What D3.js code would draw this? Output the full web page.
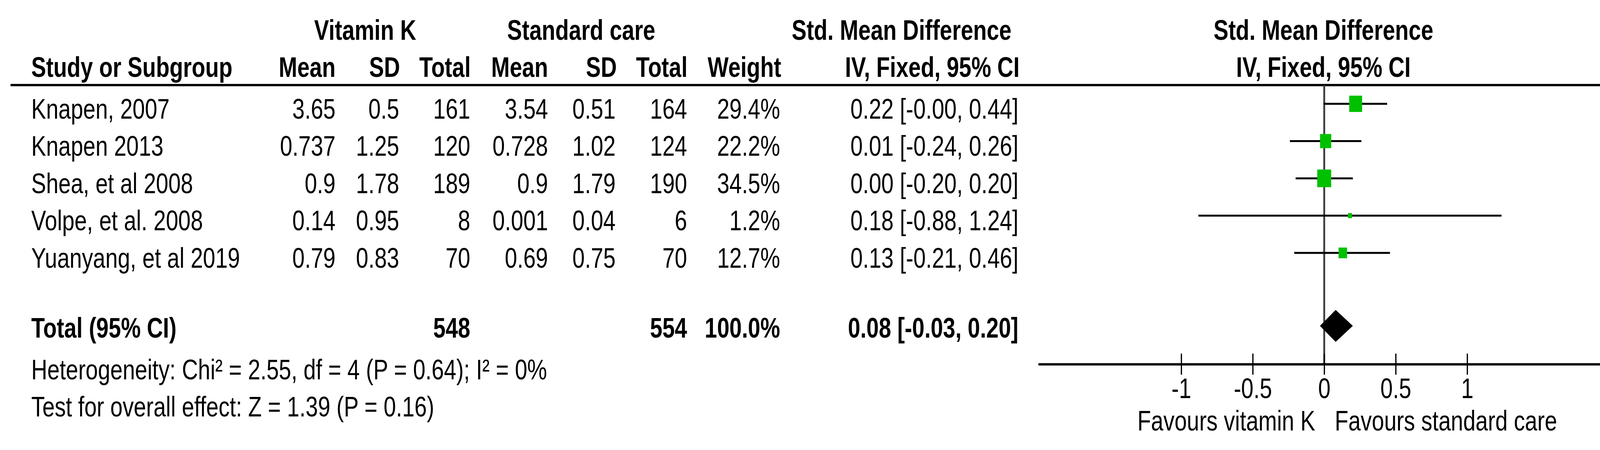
<!DOCTYPE html>
<html>
<head>
<meta charset="utf-8">
<script src="https://cdn.jsdelivr.net/npm/d3@7"></script>
<style>
  body { margin: 0; background: #fff; }
  svg { display: block; }
  text { font-family: "Liberation Sans", Arial, sans-serif; font-size: 72px; fill: #000; }
  .bold { font-weight: bold; }
</style>
</head>
<body>
<svg id="chart"></svg>
<script>
// study data
const studies = ['Knapen, 2007', 'Knapen 2013', 'Shea, et al 2008', 'Volpe, et al. 2008', 'Yuanyang, et al 2019'];
const vkMean = [3.65, 0.737, 0.9, 0.14, 0.79];
const vkSD = [0.5, 1.25, 1.78, 0.95, 0.83];
const vkN = [161, 120, 189, 8, 70];
const scMean = [3.54, 0.728, 0.9, 0.001, 0.69];
const scSD = [0.51, 1.02, 1.79, 0.04, 0.75];
const scN = [164, 124, 190, 6, 70];
const weights = [29.4, 22.2, 34.5, 1.2, 12.7];
const smd = [0.22, 0.01, 0.00, 0.18, 0.13];
const ciLow = [-0.004, -0.24, -0.20, -0.88, -0.21];
const ciHigh = [0.44, 0.26, 0.20, 1.24, 0.46];

const total = { vkN: 548, scN: 554, weight: 100.0, smd: 0.08, lo: -0.03, hi: 0.20 };
const heterogeneity = 'Heterogeneity: Chi² = 2.55, df = 4 (P = 0.64); I² = 0%';
const overallTest = 'Test for overall effect: Z = 1.39 (P = 0.16)';
const tickValues = [-1, -0.5, 0, 0.5, 1];
const favoursLeft = 'Favours vitamin K';
const favoursRight = 'Favours standard care';

// the picture is squeezed horizontally, so draw in a wider box and stretch it
const width = 4208;
const height = 1153;
const squeeze = 0.79;
const X = (v) => v / squeeze;

const svg = d3.select('#chart')
    .attr('width', width)
    .attr('height', height)
    .attr('viewBox', `0 0 ${X(width)} ${height}`)
    .attr('preserveAspectRatio', 'none');

const f2 = (v) => (v < 0 ? '-' : '') + Math.abs(v).toFixed(2);
const ciText = (e, lo, hi) => `${f2(e)} [${f2(lo)}, ${f2(hi)}]`;

const rows = studies.map((name, i) => ({
    name,
    vkMean: vkMean[i], vkSD: vkSD[i], vkN: vkN[i],
    scMean: scMean[i], scSD: scSD[i], scN: scN[i],
    weight: weights[i], smd: smd[i], lo: ciLow[i], hi: ciHigh[i],
}));

const rowY = d3.scaleLinear().domain([0, studies.length - 1]).range([304, 686]);

// table columns: right edge in screen px
const columns = [
    { key: 'vkMean', x: 859, fmt: String },
    { key: 'vkSD', x: 1022, fmt: String },
    { key: 'vkN', x: 1204, fmt: String },
    { key: 'scMean', x: 1403, fmt: String },
    { key: 'scSD', x: 1576, fmt: String },
    { key: 'scN', x: 1759, fmt: String },
    { key: 'weight', x: 1997, fmt: (v) => v.toFixed(1) + '%' },
];
const ciRight = 2607;

function addText(g, str, x, y, anchor, bold) {
    return g.append('text')
        .attr('x', X(x))
        .attr('y', y)
        .attr('text-anchor', anchor)
        .attr('class', bold ? 'bold' : null)
        .text(str);
}

// headers
const head = svg.append('g');
addText(head, 'Vitamin K', 935, 102, 'middle', true);
addText(head, 'Standard care', 1488, 102, 'middle', true);
addText(head, 'Std. Mean Difference', 2308, 102, 'middle', true);
addText(head, 'Std. Mean Difference', 3388, 102, 'middle', true);
addText(head, 'Study or Subgroup', 80, 197, 'start', true);
[['Mean', 859], ['SD', 1024], ['Total', 1205], ['Mean', 1403], ['SD', 1579], ['Total', 1760], ['Weight', 2000]]
    .forEach(([t, x]) => addText(head, t, x, 197, 'end', true));
addText(head, 'IV, Fixed, 95% CI', 2610, 197, 'end', true);
addText(head, 'IV, Fixed, 95% CI', 3388, 197, 'middle', true);

svg.append('line')
    .attr('x1', X(27)).attr('x2', X(4166))
    .attr('y1', 218).attr('y2', 218)
    .attr('stroke', '#000').attr('stroke-width', 6);

// study rows
const body = svg.append('g');
const rowG = body.selectAll('g.row')
    .data(rows)
    .join('g')
    .attr('class', 'row');

rowG.append('text')
    .attr('x', X(80))
    .attr('y', (d, i) => rowY(i))
    .text((d) => d.name);

columns.forEach((c) => {
    rowG.append('text')
        .attr('x', X(c.x))
        .attr('y', (d, i) => rowY(i))
        .attr('text-anchor', 'end')
        .text((d) => c.fmt(d[c.key]));
});

rowG.append('text')
    .attr('x', X(ciRight))
    .attr('y', (d, i) => rowY(i))
    .attr('text-anchor', 'end')
    .text((d) => ciText(d.smd, d.lo, d.hi));

// total row
const totY = 865;
addText(body, 'Total (95% CI)', 80, totY, 'start', true);
addText(body, String(total.vkN), 1204, totY, 'end', true);
addText(body, String(total.scN), 1759, totY, 'end', true);
addText(body, total.weight.toFixed(1) + '%', 1997, totY, 'end', true);
addText(body, ciText(total.smd, total.lo, total.hi), ciRight, totY, 'end', true);

addText(body, heterogeneity, 80, 972, 'start', false);
addText(body, overallTest, 80, 1067, 'start', false);

// forest plot
const x = d3.scaleLinear().domain([-2, 2]).range([X(2658), X(4122)]);
const boxSize = d3.scaleSqrt().domain([0, 100]).range([0, 77]);
const axisY = 933;

const plot = svg.append('g');

plot.append('line')
    .attr('x1', x(0)).attr('x2', x(0))
    .attr('y1', 218).attr('y2', axisY)
    .attr('stroke', '#3c3c3c').attr('stroke-width', 6);

const marks = plot.selectAll('g.mark')
    .data(rows)
    .join('g')
    .attr('class', 'mark')
    .attr('transform', (d, i) => `translate(0, ${rowY(i) - 38})`);

marks.append('line')
    .attr('x1', (d) => x(d.lo))
    .attr('x2', (d) => x(d.hi))
    .attr('stroke', '#000')
    .attr('stroke-width', 5);

marks.append('rect')
    .attr('x', (d) => x(d.smd) - Math.max(13, boxSize(d.weight)) / 2)
    .attr('y', (d) => -Math.max(13, boxSize(d.weight)) / 2)
    .attr('width', (d) => Math.max(13, boxSize(d.weight)))
    .attr('height', (d) => Math.max(13, boxSize(d.weight)))
    .attr('fill', '#00c000');

const dy = 835;
const dh = 41;
plot.append('path')
    .attr('d', d3.line()([
        [x(total.lo), dy],
        [x(total.smd), dy - dh],
        [x(total.hi), dy],
        [x(total.smd), dy + dh],
    ]) + 'Z')
    .attr('fill', '#000');

const axis = plot.append('g')
    .attr('transform', `translate(0, ${axisY})`)
    .call(d3.axisBottom(x)
        .tickValues(tickValues)
        .tickSize(27)
        .tickSizeOuter(0)
        .tickFormat((d) => String(d)));

axis.attr('font-size', null).attr('font-family', null);
axis.select('.domain').attr('stroke', '#000').attr('stroke-width', 6);
axis.selectAll('.tick line')
    .attr('y1', -27)
    .attr('stroke', '#000')
    .attr('stroke-width', 4);
axis.selectAll('.tick text')
    .attr('y', 87)
    .attr('dy', null)
    .attr('fill', '#000');

addText(plot, favoursLeft, 3367, 1103, 'end', false);
addText(plot, favoursRight, 3417, 1103, 'start', false);
</script>
</body>
</html>
